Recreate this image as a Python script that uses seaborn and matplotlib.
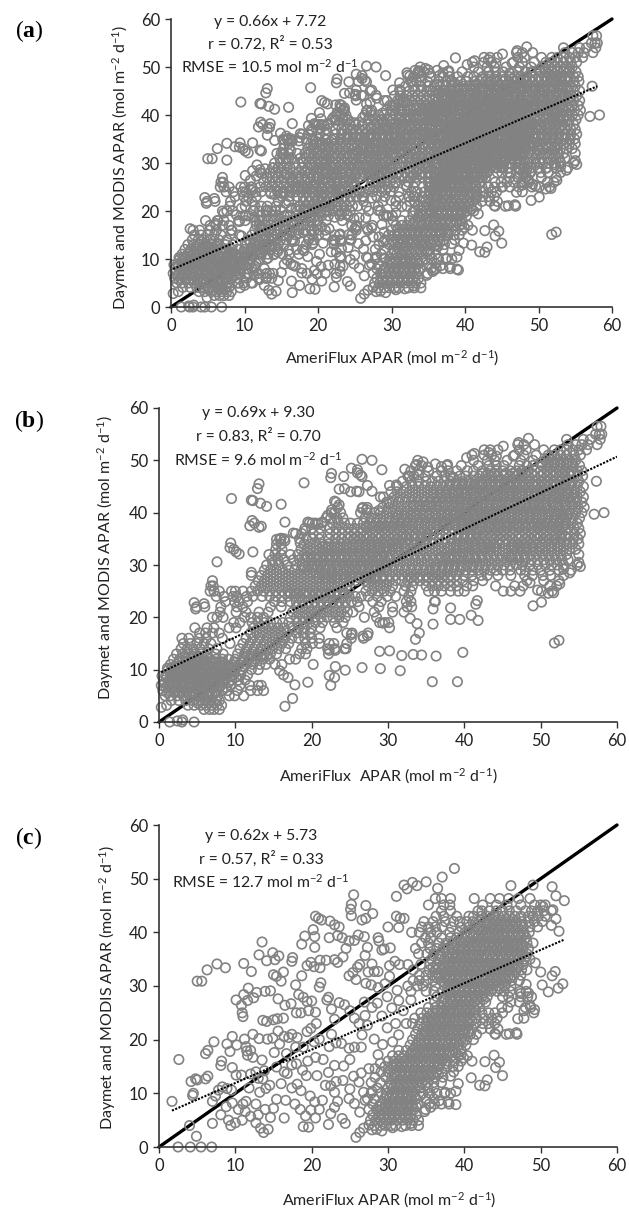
import matplotlib
matplotlib.use('Agg')
import matplotlib.pyplot as plt
import pandas as pd
import numpy as np
import seaborn as sns

# values; panel (a) holds the points of (b) and (c) together
rows_b = {
    2.4: [5.9, 6.6, 7.2, 7.9],
    3.2: [1.0, 3.8, 4.6, 5.5, 6.2, 6.9, 7.6, 8.2],
    4.1: [1.6, 2.6, 3.5, 4.4, 5.2, 6.0, 6.8, 7.5, 7.9],
    5.0: [0.8, 1.5, 2.4, 3.2, 4.0, 4.8, 5.5, 6.3, 7.0, 7.7, 9.2, 9.9, 11.1],
    6.0: [0.5, 1.3, 2.1, 2.9, 3.7, 4.4, 5.2, 5.9, 6.7, 7.5, 8.3, 9.0, 10.3, 12.0, 12.9, 13.7],
    7.0: [0.3, 1.1, 1.9, 2.7, 3.4, 4.2, 5.0, 5.8, 6.5, 7.3, 8.1, 9.4, 10.6, 11.9, 13.0, 13.4],
    8.0: [0.6, 1.4, 2.2, 3.0, 3.8, 4.6, 5.4, 6.2, 7.0, 7.8, 8.6, 9.5, 10.4, 11.3],
    9.0: [0.9, 1.7, 2.5, 3.3, 4.1, 4.9, 5.7, 6.5, 7.3, 8.1, 8.9, 9.8, 10.7, 11.6],
    10.0: [1.2, 2.0, 2.8, 3.6, 4.4, 5.2, 6.0, 6.8, 7.6, 8.4, 9.2, 10.0, 10.9, 12.1, 13.0],
    11.0: [1.5, 2.3, 3.1, 3.9, 4.7, 5.5, 6.3, 7.1, 7.9, 8.7, 9.6, 10.5, 11.4, 12.3, 13.2, 14.0, 15.2, 16.1],
    12.0: [1.9, 2.7, 3.5, 4.3, 5.1, 5.9, 6.7, 7.5, 8.3, 9.1, 10.0, 10.9, 11.8, 12.7, 13.6, 14.5, 17.1, 17.9],
    13.0: [2.3, 3.1, 3.9, 4.7, 5.5, 6.3, 7.4, 8.4, 10.3, 11.2, 12.1, 13.0, 13.8, 14.6, 15.4, 18.4, 19.2, 22.2],
    14.0: [2.9, 3.7, 4.5, 5.4, 6.5, 7.6, 10.6, 11.5, 12.4, 13.3, 14.1, 14.9, 15.7, 16.6, 18.7, 19.4, 22.1, 23.0, 24.3],
    15.0: [3.2, 4.1, 5.0, 5.9, 6.8, 9.3, 11.0, 11.9, 12.8, 13.7, 14.5, 15.3, 16.1, 17.0, 19.2, 20.1, 21.0, 22.3, 22.9, 24.6],
    16.0: [3.0, 3.9, 5.3, 6.2, 8.3, 11.4, 12.3, 13.2, 14.1, 14.9, 15.7, 16.5, 17.4, 18.3, 19.1, 20.0, 21.0, 25.2, 26.8],
    17.0: [5.3, 6.1, 7.0, 7.9, 12.0, 12.8, 13.6, 14.4, 15.2, 16.0, 16.8, 18.0, 18.9, 19.8, 24.6, 25.3, 27.4],
    18.0: [4.7, 6.3, 7.2, 9.2, 10.1, 12.4, 13.2, 14.0, 14.8, 15.6, 16.4, 17.5, 18.3, 19.1, 20.0, 21.1, 23.3],
    19.0: [9.8, 10.6, 12.2, 13.0, 13.8, 14.6, 15.4, 16.2, 17.0, 18.1, 18.9, 19.7, 20.5, 21.4, 23.0, 24.1, 28.9, 29.6, 30.1],
    20.0: [7.0, 7.6, 8.4, 11.2, 12.0, 12.9, 13.7, 17.2, 18.0, 18.8, 19.6, 20.4, 21.2, 22.0, 22.8, 23.6, 24.4, 26.9, 28.5],
    21.0: [8.0, 10.1, 11.4, 13.1, 14.3, 17.5, 18.3, 19.1, 19.9, 20.7, 21.5, 22.3, 23.1, 23.9, 24.7, 25.4, 28.2, 30.6, 32.1],
    22.0: [4.9, 6.0, 8.1, 10.2, 11.0, 14.6, 16.0, 18.0, 18.8, 19.6, 20.4, 21.2, 22.0, 22.8, 23.6, 24.4, 26.2, 28.8, 30.6, 32.5, 33.1],
    23.0: [8.7, 9.9, 10.5, 11.6, 15.1, 16.1, 17.2, 18.0, 18.8, 19.6, 20.4, 21.2, 22.0, 22.8, 23.6, 24.4, 25.2, 26.0, 28.0, 29.1, 32.4, 33.0, 36.1],
    24.0: [7.5, 8.5, 9.7, 10.2, 11.5, 12.3, 13.5, 14.5, 15.3, 16.1, 16.9, 17.7, 18.5, 19.3, 20.1, 20.9, 21.7, 22.5, 23.3, 24.1, 24.9, 25.7, 26.5, 27.4, 28.6, 29.9, 31.0, 32.7],
    25.0: [6.7, 7.2, 7.9, 9.5, 10.0, 11.0, 12.1, 12.9, 13.7, 14.5, 15.3, 16.1, 16.9, 17.7, 18.5, 19.3, 20.1, 20.9, 21.7, 22.5, 23.3, 24.1, 24.9, 27.1, 27.9, 28.7, 29.5, 30.3, 32.1, 33.0, 35.3, 36.1, 37.0, 38.2, 39.2, 40.0, 45.1, 46.1, 47.3, 50.1, 51.5],
    26.0: [6.8, 7.1, 12.6, 13.4, 14.2, 15.0, 15.8, 16.6, 17.4, 18.2, 19.0, 19.8, 20.6, 21.4, 22.2, 23.0, 23.8, 24.6, 27.4, 28.2, 29.0, 29.8, 30.6, 32.3, 33.2, 35.0, 35.8, 36.6, 37.4, 38.2, 39.0, 40.3, 41.1, 44.1, 46.6, 47.7, 51.2, 52.1],
    27.0: [7.0, 13.0, 13.8, 14.6, 15.4, 16.2, 17.0, 17.8, 18.6, 19.4, 20.2, 21.0, 21.8, 22.6, 23.4, 24.2, 25.0, 25.8, 27.0, 27.8, 28.6, 29.4, 30.2, 31.0, 31.8, 32.6, 33.4, 34.2, 35.0, 35.8, 36.6, 37.4, 38.2, 39.0, 39.8, 41.2, 42.4, 48.2, 50.4, 52.4],
    28.0: [12.1, 13.4, 14.2, 15.0, 15.8, 16.6, 17.4, 18.2, 19.0, 19.8, 20.6, 21.4, 22.2, 23.0, 23.8, 24.6, 25.4, 26.2, 27.0, 27.8, 28.6, 29.4, 30.2, 31.0, 31.8, 32.6, 33.4, 34.2, 35.0, 35.8, 36.6, 37.4, 38.2, 39.0, 40.0, 41.0, 42.2, 43.0, 44.4, 46.1, 47.9, 48.9, 50.3, 51.3, 53.0],
    29.0: [13.8, 14.6, 15.4, 16.2, 17.0, 17.8, 18.6, 19.4, 20.2, 21.0, 21.8, 22.6, 23.4, 24.2, 25.0, 25.8, 26.6, 27.4, 28.2, 29.0, 29.8, 30.6, 31.4, 32.2, 33.0, 33.8, 34.6, 35.4, 36.2, 37.0, 37.8, 38.6, 39.4, 40.2, 41.0, 41.8, 42.6, 43.4, 44.2, 45.0, 46.0, 47.4, 48.0, 49.0, 50.0, 51.2, 52.4, 54.0],
    30.0: [14.1, 14.9, 15.7, 16.8, 18.0, 18.8, 19.6, 20.4, 21.2, 22.0, 22.8, 23.6, 24.4, 25.2, 26.0, 26.8, 27.6, 28.4, 29.2, 30.0, 30.8, 31.6, 32.4, 33.2, 34.0, 34.8, 35.6, 36.4, 37.2, 38.0, 38.8, 39.6, 40.4, 41.2, 42.0, 42.8, 43.6, 44.4, 45.2, 46.0, 46.8, 47.6, 48.6, 49.6, 50.6, 51.4, 52.2, 53.0, 54.8],
    31.0: [14.8, 15.6, 16.4, 17.6, 18.4, 19.2, 20.0, 20.8, 21.6, 22.4, 23.2, 24.0, 24.8, 25.6, 26.4, 27.2, 28.0, 28.8, 29.6, 30.4, 31.2, 32.0, 32.8, 33.6, 34.4, 35.2, 36.0, 36.8, 37.6, 38.4, 39.2, 40.0, 40.8, 41.6, 42.4, 43.2, 44.0, 44.8, 45.6, 46.4, 47.2, 48.0, 48.8, 49.6, 50.4, 51.2, 52.0, 52.8, 53.6],
    32.0: [14.4, 15.2, 16.0, 17.2, 18.2, 19.0, 19.8, 20.6, 21.4, 22.2, 23.0, 23.8, 24.6, 25.4, 26.2, 27.0, 27.8, 28.6, 29.4, 30.2, 31.0, 31.8, 32.6, 33.4, 34.2, 35.0, 35.8, 36.6, 37.4, 38.2, 39.0, 39.8, 40.6, 41.4, 42.2, 43.0, 43.8, 44.6, 45.4, 46.2, 47.0, 47.8, 48.6, 49.4, 50.2, 51.0, 51.8, 52.6, 53.4, 55.0],
    33.0: [15.3, 16.1, 18.6, 19.4, 20.2, 21.0, 21.8, 22.6, 23.4, 24.2, 25.0, 25.8, 26.6, 27.4, 28.2, 29.0, 29.8, 30.6, 31.4, 32.2, 33.0, 33.8, 34.6, 35.4, 36.2, 37.0, 37.8, 38.6, 39.4, 40.2, 41.0, 41.8, 42.6, 43.4, 44.2, 45.0, 45.8, 46.6, 47.4, 48.2, 49.0, 49.8, 50.6, 51.4, 52.2, 53.0, 53.8, 54.6],
    34.0: [15.4, 16.0, 19.0, 19.8, 20.6, 21.4, 22.2, 23.0, 23.8, 24.6, 25.4, 26.2, 27.0, 27.8, 28.6, 29.4, 30.2, 31.0, 31.8, 32.6, 33.4, 34.2, 35.0, 35.8, 36.6, 37.4, 38.2, 39.0, 39.8, 40.6, 41.4, 42.2, 43.0, 43.8, 44.6, 45.4, 46.2, 47.0, 47.8, 48.6, 49.4, 50.2, 51.0, 51.8, 52.6, 53.4, 54.2, 55.0],
    35.0: [15.8, 16.4, 18.4, 19.3, 20.1, 21.0, 22.3, 23.1, 23.9, 24.7, 25.5, 26.3, 27.1, 27.9, 28.7, 29.5, 30.3, 31.1, 31.9, 32.7, 33.5, 34.3, 35.1, 35.9, 36.7, 37.5, 38.3, 39.1, 39.9, 40.7, 41.5, 42.3, 43.1, 43.9, 44.7, 45.5, 46.3, 47.1, 47.9, 48.7, 49.5, 50.3, 51.1, 51.9, 52.7, 53.5, 54.3, 54.9],
    36.0: [17.9, 18.7, 20.2, 21.0, 22.4, 23.2, 24.0, 24.8, 25.6, 26.4, 27.2, 28.0, 28.8, 29.6, 30.4, 31.2, 32.0, 32.8, 33.6, 34.4, 35.2, 36.0, 36.8, 37.6, 38.4, 39.2, 40.0, 40.8, 41.6, 42.4, 43.2, 44.0, 44.8, 45.6, 46.4, 47.2, 48.0, 48.8, 49.6, 50.4, 51.2, 52.0, 52.8, 53.6, 54.4, 55.2],
    37.0: [19.1, 20.0, 21.1, 22.4, 23.2, 24.0, 24.8, 25.6, 26.4, 27.2, 28.0, 28.8, 29.6, 30.4, 31.2, 32.0, 32.8, 33.6, 34.4, 35.2, 36.0, 36.8, 37.6, 38.4, 39.2, 40.0, 40.8, 41.6, 42.4, 43.2, 44.0, 44.8, 45.6, 46.4, 47.2, 48.0, 48.8, 49.6, 50.4, 51.2, 52.0, 52.8, 53.6, 54.4, 55.0],
    38.0: [19.7, 20.5, 21.3, 22.7, 23.5, 24.3, 25.1, 26.0, 26.8, 27.6, 28.4, 29.2, 30.0, 30.8, 31.6, 32.4, 33.2, 34.0, 34.8, 35.6, 36.4, 37.2, 38.0, 38.8, 39.6, 40.4, 41.2, 42.0, 42.8, 43.6, 44.4, 45.2, 46.0, 46.8, 47.6, 48.4, 49.2, 50.0, 50.8, 51.6, 52.4, 53.2, 54.0, 54.8],
    39.0: [21.9, 22.5, 23.3, 24.1, 27.0, 27.8, 28.6, 29.4, 30.2, 31.0, 31.8, 32.6, 33.4, 34.2, 35.0, 35.8, 36.6, 37.4, 38.2, 39.0, 39.8, 40.6, 41.4, 42.2, 43.0, 43.8, 44.6, 45.4, 46.2, 47.0, 47.8, 48.6, 49.4, 50.2, 51.0, 51.8, 52.6, 53.4, 54.2, 55.1],
    40.0: [22.6, 23.0, 23.8, 26.4, 27.3, 28.2, 29.0, 29.8, 30.6, 31.4, 32.2, 33.0, 33.8, 34.6, 35.4, 36.2, 37.0, 37.8, 38.6, 39.4, 40.2, 41.0, 41.8, 42.6, 43.4, 44.2, 45.0, 45.8, 46.6, 47.4, 48.2, 49.0, 49.8, 50.6, 51.4, 52.2, 53.0, 53.8, 54.6, 55.4],
    41.0: [23.4, 26.7, 27.3, 29.3, 30.1, 30.9, 31.7, 32.5, 33.3, 34.1, 34.9, 35.7, 36.5, 37.3, 38.1, 38.9, 39.7, 40.5, 41.3, 42.1, 42.9, 43.7, 44.5, 45.3, 46.1, 46.9, 47.7, 48.5, 49.3, 50.1, 50.9, 51.7, 52.5, 53.3, 54.1, 54.9, 55.7],
    42.0: [23.2, 29.8, 30.6, 31.4, 32.2, 33.0, 33.8, 34.6, 35.4, 36.2, 37.0, 37.8, 38.6, 39.4, 40.2, 41.0, 41.8, 42.6, 43.4, 44.2, 45.0, 45.8, 46.6, 47.4, 48.2, 49.0, 49.8, 50.6, 51.4, 52.2, 53.0, 53.8, 54.6, 55.4],
    43.0: [29.4, 30.8, 31.6, 32.4, 33.2, 34.0, 34.8, 35.6, 36.4, 37.2, 38.0, 38.8, 39.6, 40.4, 41.2, 42.0, 42.8, 43.6, 44.4, 45.2, 46.0, 46.8, 47.6, 48.4, 49.2, 50.0, 50.8, 51.6, 52.4, 53.2, 54.0, 54.8, 55.6],
    44.0: [30.4, 31.2, 32.0, 32.8, 33.6, 34.4, 35.2, 36.0, 36.8, 37.6, 38.4, 39.2, 40.0, 40.8, 41.6, 42.4, 43.2, 44.0, 44.8, 45.6, 46.4, 47.2, 48.0, 48.8, 49.6, 50.4, 51.2, 52.0, 52.8, 53.6, 54.4, 55.2],
    45.0: [31.2, 32.4, 33.2, 34.0, 34.8, 35.6, 36.4, 37.2, 38.0, 38.8, 39.6, 40.4, 41.2, 42.0, 42.8, 43.6, 44.4, 45.2, 46.0, 46.8, 47.6, 48.4, 49.2, 50.0, 50.8, 51.6, 52.4, 53.2, 54.0, 54.8, 55.6],
    46.0: [31.9, 33.0, 34.0, 35.0, 35.8, 36.6, 37.4, 38.2, 39.0, 39.8, 40.6, 41.4, 42.2, 43.0, 43.8, 44.6, 45.4, 46.2, 47.0, 47.8, 48.6, 49.4, 50.2, 51.0, 51.8, 52.6, 53.4, 54.2, 55.0],
    47.0: [32.6, 33.4, 34.9, 36.4, 37.4, 38.2, 39.4, 40.2, 41.2, 42.0, 42.8, 43.6, 44.4, 45.2, 46.0, 46.8, 47.6, 48.4, 49.2, 50.0, 50.8, 51.6, 52.4, 53.2, 54.0, 54.8, 55.5],
    48.0: [33.0, 34.0, 35.3, 37.0, 37.9, 39.0, 40.4, 41.2, 42.4, 43.4, 44.2, 45.0, 46.0, 46.8, 47.6, 48.4, 49.2, 50.0, 50.8, 51.6, 52.4, 53.2, 54.0, 54.8, 55.4],
    49.0: [33.6, 34.4, 37.7, 39.6, 41.8, 43.2, 44.2, 45.2, 47.2, 48.2, 49.0, 50.2, 51.0, 51.8, 52.6, 53.4, 54.2, 55.1],
    50.0: [33.9, 41.2, 43.0, 44.0, 45.6, 47.4, 49.0, 50.6, 51.4, 52.2, 53.0, 53.8, 54.6],
    51.0: [41.0, 42.6, 43.6, 46.6, 47.8, 49.4, 51.0, 51.8, 52.6, 53.4, 54.4, 55.2],
    52.0: [43.4, 44.4, 47.2, 48.1, 50.4, 51.8, 52.6, 53.4, 54.2, 55.0, 56.0],
    53.0: [47.0, 47.8, 49.2, 53.6, 54.6, 55.4, 56.2, 57.4],
    54.0: [53.4, 55.6, 57.8, 56.5],
    55.0: [57.2, 57.7, 58.0],
    56.5: [57.4, 57.9],
}
# in-between rows where the cloud is solid grey
rows_b_core = {
    3.6: [5.1, 5.8, 6.5, 7.3],
    5.6: [1.1, 2.0, 2.7, 3.6, 4.3, 5.2, 5.7, 6.6, 7.4],
    6.6: [0.9, 1.6, 2.5, 3.1, 4.0, 4.9, 5.4, 6.2, 7.0, 7.9, 8.8],
    7.5: [0.7, 1.5, 2.3, 3.1, 3.9, 4.8, 5.6, 6.3, 7.2, 8.4, 9.1],
    8.6: [1.0, 1.9, 2.6, 3.5, 4.3, 5.2, 5.9, 6.8, 7.6, 8.3, 9.3, 10.1],
    9.5: [1.5, 2.2, 3.0, 3.8, 4.7, 5.4, 6.3, 7.0, 7.9, 8.7, 9.5],
    10.6: [2.0, 2.6, 3.5, 4.2, 5.1, 5.9, 6.6, 7.5, 8.2, 9.1, 10.2, 11.0],
    11.5: [2.6, 3.4, 4.2, 5.0, 5.8, 6.7, 7.4, 8.2, 9.9, 11.0, 12.1],
    12.6: [3.4, 4.4, 5.2, 6.2, 11.6, 12.4, 13.3, 14.1],
    24.6: [17.1, 18.0, 19.0, 19.7, 20.6, 21.4, 22.4, 23.0, 24.3],
    27.6: [20.9, 21.7, 22.5, 23.2, 24.4, 25.1, 26.1, 26.9, 27.6, 28.4, 29.3, 33.1, 34.0, 35.2, 36.1, 37.1, 37.9],
    29.6: [19.1, 20.1, 20.8, 21.7, 22.4, 23.3, 24.2, 24.9, 25.7, 26.5, 27.4, 28.1, 29.0, 29.7, 36.2, 37.1, 37.9, 38.7, 39.6, 41.1],
    31.5: [19.4, 20.3, 21.1, 22.0, 22.7, 23.6, 24.3, 25.2, 26.0, 26.9, 27.6, 28.5, 29.2, 30.1, 37.0, 38.0, 38.7, 39.6, 40.5, 41.4, 42.3, 46.1, 47.0, 47.9],
    33.5: [21.4, 22.1, 23.0, 23.7, 24.6, 25.4, 26.2, 27.1, 27.9, 28.8, 29.6, 30.5, 31.2, 32.1, 38.1, 39.0, 39.9, 40.6, 41.5, 42.4, 43.2, 44.0, 46.4, 47.2, 48.0, 48.9, 49.9, 51.4, 52.3],
    35.5: [25.1, 26.0, 26.9, 27.6, 28.5, 29.2, 30.1, 30.9, 31.8, 32.5, 33.4, 34.3, 35.0, 39.2, 40.0, 40.9, 41.7, 42.5, 43.4, 44.2, 45.0, 45.9, 46.8, 47.5, 48.4, 49.3, 50.0, 50.9, 51.8, 52.6, 53.3],
    37.5: [27.2, 28.1, 29.0, 29.7, 30.6, 31.4, 32.3, 33.1, 33.9, 34.8, 35.5, 36.4, 37.3, 38.0, 38.9, 39.8, 40.6, 41.3, 42.2, 43.1, 43.9, 44.6, 45.5, 46.4, 47.1, 48.0, 48.9, 49.8, 50.5, 51.4, 52.2, 53.0],
    39.5: [31.2, 32.1, 33.0, 33.7, 34.6, 35.4, 36.3, 37.1, 37.9, 38.8, 39.5, 40.4, 41.2, 42.1, 42.8, 43.7, 44.5, 45.3, 46.1, 47.0, 47.7, 48.6, 49.5, 50.2, 51.1, 52.0, 52.8, 53.5],
    41.5: [33.4, 34.2, 35.1, 35.8, 36.7, 37.5, 38.4, 39.2, 40.0, 40.9, 41.6, 42.5, 43.3, 44.2, 44.9, 45.8, 46.6, 47.4, 48.2, 49.1, 49.8, 50.7, 51.6, 52.3, 53.2, 54.1],
    43.5: [36.0, 36.9, 37.7, 38.6, 39.3, 40.2, 41.1, 41.9, 42.6, 43.5, 44.3, 45.1, 45.9, 46.8, 47.5, 48.4, 49.3, 50.0, 50.9, 51.8, 52.5, 53.4, 54.3],
    45.5: [38.1, 39.0, 39.8, 40.7, 41.4, 42.3, 43.2, 44.0, 44.7, 45.6, 46.4, 47.2, 48.0, 48.9, 49.6, 50.5, 51.4, 52.1, 53.0, 53.9],
    47.5: [42.3, 43.1, 44.0, 45.4, 46.3, 47.1, 47.9, 48.8, 50.4, 51.3, 52.1, 53.0, 53.8],
    49.5: [50.1, 50.9, 51.7, 52.6, 53.5, 54.2],
}
outliers_b = [
    (0.4, 8.8), (1.1, 10.3), (1.7, 10.3), (0.3, 2.8), (1.4, 0.0), (2.4, 0.2), (3.0, 0.0), (3.1, 0.4), (4.6, 0.0),
    (4.6, 22.8), (4.8, 21.6), (5.9, 22.6), (7.6, 30.6), (9.4, 34.2), (9.3, 33.3), (9.8, 33.0), (10.1, 32.5),
    (10.5, 32.1), (9.5, 42.7), (12.1, 42.4), (12.3, 42.3), (13.3, 41.8), (14.1, 41.2), (16.0, 41.6), (12.9, 44.6),
    (13.1, 45.5), (12.2, 38.5), (12.5, 38.0), (11.9, 37.5), (13.1, 37.2), (13.4, 37.4), (16.5, 38.2), (12.3, 32.5),
    (12.1, 28.6), (15.4, 34.9), (16.0, 35.1), (16.5, 34.6), (17.6, 36.1), (18.5, 34.2), (19.2, 36.6), (19.5, 38.2),
    (20.1, 38.0), (20.8, 37.9), (21.4, 38.2), (22.1, 39.5), (22.6, 40.5), (23.0, 42.2), (23.6, 41.5), (19.0, 45.7),
    (22.6, 47.5), (22.5, 46.7), (24.2, 46.9), (23.6, 44.5), (24.3, 44.6), (25.1, 44.0), (25.9, 44.1), (26.2, 44.0),
    (25.2, 48.5), (26.0, 48.2), (26.4, 47.2), (26.0, 47.6), (26.6, 46.9), (26.6, 50.2), (27.3, 45.2), (27.9, 44.1),
    (27.9, 50.0), (29.2, 48.2), (29.0, 43.0), (26.6, 40.8), (27.2, 40.6), (28.8, 40.4), (30.2, 41.9), (30.2, 45.2),
    (31.1, 45.3), (32.2, 48.3), (32.8, 47.0), (33.7, 49.2), (34.6, 49.7), (35.2, 48.7), (34.0, 47.2), (36.2, 49.3),
    (37.0, 48.8), (37.8, 49.2), (38.5, 46.8), (41.3, 51.3), (42.6, 52.0), (43.2, 51.5), (45.1, 52.7), (47.1, 53.4),
    (48.4, 54.2), (46.4, 50.8), (44.2, 50.8), (40.3, 50.5),
    (16.5, 3.0), (17.5, 4.5), (17.8, 7.1), (19.5, 7.6), (16.9, 8.5), (16.3, 9.0), (15.8, 9.8), (20.2, 11.0),
    (22.5, 7.0), (22.3, 8.9), (23.0, 8.5), (23.1, 10.6), (24.4, 9.9), (26.6, 10.4), (29.0, 10.2), (31.6, 9.8),
    (35.8, 7.7), (39.1, 7.7), (28.9, 13.5), (30.2, 13.6), (31.8, 12.7), (33.3, 12.9), (34.4, 12.8), (36.3, 12.6),
    (39.8, 13.3), (51.8, 15.1), (52.4, 15.6), (33.6, 15.8), (34.1, 17.0), (33.8, 18.8), (32.9, 19.8), (35.9, 18.7),
    (35.9, 21.6), (36.2, 23.0), (38.2, 21.8), (38.2, 19.6), (39.4, 19.6), (40.9, 20.4), (41.8, 19.4), (41.5, 22.5),
    (41.7, 23.2), (57.0, 39.7), (58.3, 40.0), (57.3, 46.0), (49.0, 22.2), (50.1, 22.9), (48.6, 26.6), (49.6, 25.2),
    (51.0, 24.6), (51.7, 24.7), (52.5, 26.4), (53.0, 29.2), (53.8, 28.5), (55.0, 30.5), (55.2, 29.7),
    (22.3, 13.7), (23.1, 13.7), (24.5, 14.0), (25.2, 16.7), (26.7, 16.4), (27.3, 16.5), (29.3, 18.9), (30.2, 18.0),
]

rows_c = {
    4.0: [28.2, 29.0, 29.7, 30.4, 31.0, 32.3, 33.1, 34.0],
    5.0: [27.7, 28.4, 29.1, 29.8, 30.5, 31.2, 31.9, 32.6, 33.3, 34.0],
    6.0: [28.0, 28.8, 29.5, 30.2, 30.9, 31.6, 32.3, 33.0, 33.7],
    7.0: [27.5, 28.5, 29.2, 29.9, 30.6, 31.3, 32.0, 32.7, 33.4, 34.9],
    8.0: [28.0, 29.0, 29.7, 30.4, 31.1, 31.8, 32.5, 33.2, 33.9, 35.4, 36.1, 37.0, 38.0],
    9.0: [27.3, 28.2, 29.5, 30.2, 30.9, 31.6, 32.3, 33.0, 33.7, 35.0, 36.0],
    10.0: [27.8, 29.1, 29.8, 30.5, 31.2, 31.9, 32.6, 33.3, 34.6, 35.5, 36.4, 37.4, 38.2],
    11.0: [28.6, 30.0, 30.7, 31.4, 32.1, 32.8, 33.5, 34.2, 35.2, 36.0],
    12.0: [29.0, 30.3, 31.0, 31.7, 32.4, 33.1, 33.8, 34.5, 35.2, 36.0, 37.0],
    13.0: [28.3, 29.7, 30.5, 31.2, 31.9, 32.6, 33.3, 34.0, 34.7, 35.4, 36.1, 37.2],
    14.0: [29.1, 30.0, 30.8, 31.5, 32.2, 32.9, 33.6, 34.3, 35.0, 35.7, 36.4, 37.1, 38.6],
    15.0: [29.6, 30.4, 31.1, 31.8, 32.5, 33.2, 33.9, 34.6, 35.3, 36.0, 36.7, 37.7, 38.5, 39.2],
    16.0: [30.0, 30.8, 31.5, 32.2, 32.9, 33.6, 34.3, 35.0, 35.7, 36.4, 37.1, 37.8, 38.7, 39.6],
    17.0: [30.6, 31.4, 32.1, 32.8, 33.5, 34.2, 34.9, 35.6, 36.3, 37.0, 37.7, 38.4, 39.3, 40.4],
    18.0: [31.4, 32.4, 33.2, 33.9, 34.6, 35.3, 36.0, 36.7, 37.4, 38.1, 38.8, 39.6],
    19.0: [32.9, 33.7, 34.4, 35.1, 35.8, 36.5, 37.2, 37.9, 38.6, 39.3, 40.2],
    20.0: [33.2, 34.0, 34.7, 35.4, 36.1, 36.8, 37.5, 38.2, 38.9, 39.6, 40.3, 41.2],
    21.0: [33.6, 34.4, 35.1, 35.8, 36.5, 37.2, 37.9, 38.6, 39.3, 40.0, 40.8, 41.6, 44.1, 45.5, 46.9],
    22.0: [33.9, 34.6, 35.3, 36.0, 36.7, 37.4, 38.1, 38.8, 39.5, 40.2, 41.0, 42.3, 43.4, 44.4],
    23.0: [33.2, 34.2, 35.0, 35.7, 36.4, 37.1, 37.8, 38.5, 39.2, 39.9, 40.6, 41.5, 42.4, 43.2, 44.0],
    24.0: [33.5, 34.5, 35.2, 35.9, 36.6, 37.3, 38.0, 38.7, 39.4, 40.1, 40.8, 41.6, 42.6, 43.6, 44.3, 47.8],
    25.0: [34.3, 35.1, 35.8, 36.5, 37.2, 37.9, 38.6, 39.3, 40.0, 40.7, 41.4, 42.3, 43.2, 44.0, 45.0, 49.1],
    26.0: [35.3, 36.2, 37.0, 37.7, 38.4, 39.1, 39.8, 40.5, 41.2, 42.0, 44.9, 45.7, 48.0, 48.7],
    27.0: [36.1, 37.0, 37.8, 38.5, 39.2, 39.9, 40.6, 41.3, 42.0, 42.8, 46.1, 47.2],
    28.0: [36.4, 37.3, 38.1, 38.8, 39.5, 40.2, 40.9, 41.6, 42.3, 43.0, 45.0, 45.8, 47.4, 48.3, 48.8],
    29.0: [33.0, 35.0, 36.0, 37.1, 37.9, 38.6, 39.3, 40.0, 40.7, 41.4, 42.1, 42.8, 43.5, 44.3, 45.2, 46.0, 47.3, 48.1],
    30.0: [32.6, 33.8, 34.6, 36.2, 37.4, 38.2, 38.9, 39.6, 40.3, 41.0, 41.7, 42.4, 43.1, 43.8, 44.5, 45.3, 46.1],
    31.0: [33.3, 34.1, 35.0, 35.9, 37.0, 37.8, 38.5, 39.2, 39.9, 40.6, 41.3, 42.0, 42.7, 43.4, 44.1, 44.8, 45.5, 46.2, 47.2],
    32.0: [34.1, 35.0, 35.8, 36.6, 37.4, 38.1, 38.8, 39.5, 40.2, 40.9, 41.6, 42.3, 43.0, 43.7, 44.4, 45.1, 45.8, 46.5, 47.4],
    33.0: [33.3, 35.4, 36.2, 37.0, 37.7, 38.4, 39.1, 39.8, 40.5, 41.2, 41.9, 42.6, 43.3, 44.0, 44.7, 45.4, 46.1, 46.8, 47.5, 48.2],
    34.0: [32.6, 34.3, 35.5, 36.4, 37.2, 37.9, 38.6, 39.3, 40.0, 40.7, 41.4, 42.1, 42.8, 43.5, 44.2, 44.9, 45.6, 46.3, 47.0, 47.7],
    35.0: [35.7, 36.6, 37.4, 38.1, 38.8, 39.5, 40.2, 40.9, 41.6, 42.3, 43.0, 43.7, 44.4, 45.1, 45.8, 46.5, 47.2, 47.9, 48.6],
    36.0: [34.0, 35.1, 36.0, 36.9, 37.7, 38.4, 39.1, 39.8, 40.5, 41.2, 41.9, 42.6, 43.3, 44.0, 44.7, 45.4, 46.1, 46.8, 47.5, 48.2],
    37.0: [33.6, 35.5, 36.4, 37.2, 37.9, 38.6, 39.3, 40.0, 40.7, 41.4, 42.1, 42.8, 43.5, 44.2, 44.9, 45.6, 46.3, 47.0, 47.7, 48.4],
    38.0: [34.4, 35.3, 36.7, 37.6, 38.4, 39.1, 39.8, 40.5, 41.2, 41.9, 42.6, 43.3, 44.0, 44.7, 45.4, 46.1, 46.8, 47.5, 48.2, 49.0],
    39.0: [34.9, 35.6, 37.0, 38.2, 39.0, 39.7, 40.4, 41.1, 41.8, 42.5, 43.2, 43.9, 44.6, 45.3, 46.0, 46.7, 47.4, 48.1],
    40.0: [33.1, 34.1, 35.6, 36.4, 38.1, 39.3, 40.1, 40.8, 41.5, 42.2, 42.9, 43.6, 44.3, 45.0, 45.7, 46.4, 47.1, 47.8, 48.5],
    41.0: [34.4, 35.3, 36.2, 37.1, 38.3, 39.6, 40.6, 41.4, 42.1, 42.8, 43.5, 44.2, 44.9, 45.6, 46.3, 47.0, 47.7, 48.6, 49.6],
    42.0: [34.7, 35.9, 37.5, 38.6, 39.4, 40.3, 41.1, 41.9, 42.6, 43.3, 44.0, 44.7, 45.4, 46.1, 46.8, 47.5, 48.4, 49.2, 50.2],
    43.0: [36.3, 37.3, 39.0, 40.6, 41.2, 42.2, 43.0, 43.8, 44.5, 45.2, 45.9, 46.6, 47.4, 48.4, 49.0, 49.7, 50.6],
    44.0: [37.0, 38.2, 41.8, 42.3, 43.3, 44.2, 45.0, 45.9, 46.8, 48.0, 48.8, 49.6, 50.4, 51.4],
    45.1: [35.3, 37.3, 38.1, 42.4, 44.2, 45.6, 47.4, 49.2, 50.0, 50.6],
    46.3: [36.2, 37.0, 38.2, 41.3, 43.4, 44.6, 45.8, 47.1, 48.6],
}
rows_c_core = {
    5.5: [28.7, 29.4, 30.1, 30.8, 31.5, 32.2, 32.9],
    7.5: [28.9, 29.6, 30.4, 31.0, 31.8, 32.5, 33.1, 33.7],
    9.5: [29.8, 30.6, 31.3, 32.0, 32.7, 33.5, 34.2],
    11.5: [30.4, 31.2, 31.9, 32.6, 33.3, 34.0, 34.9],
    13.5: [30.9, 31.6, 32.3, 33.0, 33.8, 34.5, 35.2, 35.9, 36.6],
    15.5: [31.0, 31.7, 32.4, 33.1, 33.9, 34.6, 35.4, 36.1, 36.8, 37.6],
    17.5: [33.0, 33.7, 34.4, 35.1, 35.9, 36.6, 37.3, 38.0, 38.9],
    19.5: [33.9, 34.7, 35.4, 36.1, 36.8, 37.6, 38.3, 39.0, 39.8],
    21.5: [34.9, 35.6, 36.3, 37.0, 37.7, 38.5, 39.2, 39.9, 40.6],
    23.5: [35.2, 35.9, 36.7, 37.4, 38.1, 38.8, 39.6, 40.3, 41.0],
    25.5: [36.4, 37.1, 37.9, 38.6, 39.3, 40.1, 40.8, 41.5],
    27.5: [37.4, 38.2, 38.9, 39.6, 40.3, 41.0, 41.8, 42.5],
    29.5: [37.8, 38.5, 39.2, 40.0, 40.7, 41.4, 42.2, 42.9, 43.7, 44.6],
    31.5: [36.4, 37.3, 38.0, 38.7, 39.4, 40.2, 40.9, 41.6, 42.4, 43.1, 43.9, 44.6, 45.3, 46.0],
    33.5: [35.9, 36.7, 37.4, 38.2, 38.9, 39.7, 40.4, 41.1, 41.9, 42.6, 43.3, 44.1, 44.8, 45.5, 46.3, 47.0],
    35.5: [37.0, 37.8, 38.5, 39.2, 40.0, 40.7, 41.4, 42.2, 42.9, 43.7, 44.4, 45.1, 45.9, 46.6, 47.3, 48.1],
    37.5: [38.8, 39.5, 40.3, 41.0, 41.7, 42.5, 43.2, 43.9, 44.7, 45.4, 46.2, 46.9, 47.6],
    39.5: [41.2, 41.9, 42.7, 43.4, 44.1, 44.9, 45.6, 46.3, 47.1, 47.8],
    41.5: [43.0, 43.7, 44.5, 45.2, 46.0, 46.7, 47.5],
}
outliers_c = [
    (1.7, 8.5), (2.6, 16.3), (2.5, 0.0), (4.1, 0.0), (5.5, 0.0), (6.9, 0.0), (4.0, 4.0), (4.9, 2.0), (4.4, 9.6),
    (4.5, 10.0), (4.2, 12.2), (4.8, 12.7), (5.0, 12.5), (6.1, 12.7), (6.4, 13.2), (6.1, 17.4), (6.4, 18.0),
    (5.0, 30.9), (5.6, 30.9), (6.3, 33.0), (7.6, 34.1), (8.7, 33.4), (7.2, 19.6), (8.9, 19.2), (9.3, 17.8),
    (9.6, 20.6), (10.2, 19.0), (9.6, 14.8), (8.2, 16.0), (8.1, 15.2), (7.0, 8.5), (7.4, 9.5), (7.8, 10.6),
    (8.3, 11.2), (8.9, 10.9), (9.5, 10.6), (7.0, 4.4), (8.1, 6.0), (8.8, 7.5), (9.1, 5.0), (9.4, 4.0), (10.0, 4.5),
    (10.4, 7.0), (11.0, 8.0), (11.4, 8.5), (10.9, 5.0), (12.0, 5.7), (13.0, 6.0), (12.7, 4.5), (13.3, 3.5),
    (13.7, 2.7), (14.3, 3.3), (13.9, 7.0), (14.6, 5.5), (15.0, 7.2), (16.4, 5.4), (16.6, 8.7), (17.4, 11.0),
    (17.8, 8.0), (18.5, 7.0), (18.9, 3.8), (19.6, 3.7), (19.2, 5.8), (19.9, 6.9), (20.5, 5.4), (20.4, 8.4),
    (21.0, 7.0), (21.4, 8.7), (22.2, 4.2), (22.5, 6.2), (23.0, 7.4), (23.4, 8.5), (24.0, 5.3), (24.4, 4.4),
    (24.9, 9.0), (25.0, 10.8), (25.6, 8.1), (26.3, 6.5), (25.8, 1.8), (26.3, 2.7), (26.8, 3.5), (27.5, 4.1),
    (27.0, 8.7), (26.8, 10.2), (27.9, 10.4), (10.1, 27.4), (10.8, 26.4), (10.9, 25.0), (11.0, 24.3), (11.1, 28.4),
    (11.7, 29.6), (11.6, 27.3), (12.4, 27.8), (12.8, 28.8), (13.9, 29.0), (14.6, 29.1), (15.6, 27.6), (11.1, 34.2),
    (12.1, 32.7), (13.5, 38.2), (13.1, 35.8), (14.1, 34.7), (14.9, 36.2), (15.2, 34.9), (15.7, 35.6), (15.0, 32.1),
    (15.4, 31.8), (16.0, 30.9), (16.3, 32.6), (17.5, 35.3), (17.4, 34.6), (18.7, 31.9), (18.7, 37.8), (19.1, 39.3),
    (20.2, 40.5), (20.4, 39.2), (20.4, 37.2), (20.5, 43.0), (20.9, 42.6), (21.3, 42.3), (22.4, 42.1), (23.0, 41.4),
    (23.6, 41.0), (22.3, 39.0), (23.4, 39.4), (24.0, 39.0), (24.5, 37.0), (24.9, 38.4), (25.6, 38.5), (26.1, 39.5),
    (26.9, 39.2), (19.4, 33.8), (19.9, 34.4), (20.3, 33.6), (21.1, 33.4), (21.1, 34.8), (21.9, 34.8), (23.0, 34.9),
    (23.4, 34.4), (24.1, 35.4), (24.9, 31.9), (25.4, 32.5), (25.8, 31.2), (26.0, 33.5), (26.3, 34.0), (27.0, 35.7),
    (27.3, 37.2), (27.4, 32.6), (27.9, 34.1), (28.2, 32.7), (28.7, 32.7), (27.1, 30.5), (27.8, 30.2), (28.7, 29.7),
    (29.6, 30.4), (30.2, 31.8), (30.2, 33.8), (30.9, 34.6), (31.5, 34.0), (25.1, 44.3), (25.2, 45.2), (25.5, 47.0),
    (25.2, 43.1), (26.6, 42.3), (27.1, 42.6), (27.1, 45.0), (28.0, 43.5), (28.7, 39.0), (28.8, 38.4), (29.2, 36.7),
    (29.5, 36.9), (30.3, 37.1), (30.0, 41.0), (31.1, 43.0), (31.6, 42.6), (31.4, 40.9), (32.1, 42.6), (31.1, 46.7),
    (32.1, 48.8), (32.5, 48.1), (33.2, 49.3), (33.8, 48.7), (35.0, 49.4), (36.5, 48.2), (37.1, 50.3), (38.7, 51.9),
    (13.6, 23.6), (14.1, 23.4), (15.0, 23.7), (15.5, 23.9), (16.3, 24.0), (16.5, 26.4), (17.3, 26.7), (17.9, 30.2),
    (18.3, 28.4), (18.9, 27.9), (19.4, 27.1), (20.0, 27.2), (18.0, 25.0), (18.6, 25.0), (19.6, 25.4), (20.5, 25.1),
    (20.6, 23.0), (21.0, 29.8), (21.2, 30.6), (22.2, 27.9), (22.0, 27.4), (22.6, 25.7), (23.0, 23.8), (23.6, 26.9),
    (24.3, 26.5), (25.0, 25.4), (25.6, 24.0), (26.2, 23.0), (26.9, 27.0), (27.9, 26.0), (28.6, 26.8),
    (11.2, 20.1), (11.4, 18.7), (11.5, 17.9), (11.6, 17.1), (12.0, 18.0), (12.3, 16.7), (12.3, 21.0), (13.1, 20.2),
    (14.2, 20.1), (14.9, 20.3), (13.5, 16.2), (12.7, 14.0), (12.0, 13.6), (13.0, 12.8), (13.8, 14.2), (14.5, 11.5),
    (14.0, 10.9), (13.2, 10.2), (11.8, 11.0), (10.8, 13.4), (10.1, 13.4), (15.1, 17.6), (15.8, 19.2), (15.6, 21.6),
    (16.4, 20.6), (17.0, 20.4), (17.4, 21.0), (18.1, 20.4), (18.9, 18.6), (19.4, 21.5), (19.9, 22.1), (20.3, 19.6),
    (21.0, 20.1), (22.3, 18.7), (22.6, 21.0), (23.2, 19.4), (23.9, 19.3), (24.9, 18.4), (25.6, 18.6), (26.5, 18.6),
    (26.6, 20.9), (27.3, 22.7), (28.2, 20.1), (29.3, 19.1), (29.9, 22.2), (20.5, 16.7), (20.7, 13.3), (19.3, 13.3),
    (18.8, 14.3), (18.0, 15.5), (17.4, 15.3), (16.4, 14.0), (15.4, 14.9), (16.8, 13.7), (22.2, 13.9), (22.5, 11.4),
    (23.2, 12.2), (23.0, 15.2), (24.2, 15.1), (25.0, 16.3), (25.5, 13.2), (26.5, 13.8), (27.5, 14.6), (28.3, 14.6),
    (42.0, 11.5), (42.7, 11.4), (43.0, 12.5), (40.9, 12.9), (44.1, 14.8), (45.0, 13.3), (44.6, 15.8), (43.9, 17.1),
    (42.7, 15.9), (41.0, 16.0), (39.2, 11.8), (38.9, 10.4), (38.9, 7.9), (37.9, 8.4), (38.2, 13.2), (39.6, 17.3),
    (39.9, 16.6), (47.0, 23.9), (47.8, 25.4), (48.6, 26.4), (49.2, 25.6), (45.9, 21.1), (46.8, 21.3), (44.0, 21.1),
    (51.5, 31.9), (51.9, 32.7), (52.9, 30.4), (52.3, 29.6), (51.0, 28.9), (50.2, 30.2), (50.0, 32.6), (49.3, 34.3),
    (48.1, 30.3), (48.4, 28.7), (47.4, 28.6), (52.4, 40.2), (52.0, 42.5), (51.4, 41.3), (51.5, 48.5), (52.0, 46.8),
    (53.1, 45.9), (51.6, 44.2), (49.0, 48.8), (50.3, 44.8), (46.1, 48.7),
    (27.9, 3.2), (28.5, 3.3), (29.2, 3.0), (30.6, 3.6), (31.8, 3.8), (33.0, 4.4), (34.8, 6.6), (35.6, 7.4),
    (36.7, 8.6), (37.5, 10.2), (23.0, 10.2), (21.8, 11.5), (19.8, 9.5), (18.6, 10.5), (18.1, 11.7), (16.0, 11.8),
    (15.4, 8.9), (12.7, 8.0), (11.3, 6.6), (9.6, 8.2), (13.6, 12.7), (16.7, 17.4), (17.9, 18.6), (19.5, 16.0),
    (21.5, 16.3), (24.1, 12.4), (26.2, 12.1), (27.8, 12.0), (28.7, 17.2), (29.0, 15.6), (27.0, 24.5), (29.2, 24.4),
    (30.5, 25.9), (31.4, 27.3), (32.0, 25.4), (31.0, 23.0), (31.4, 20.9), (30.6, 19.6), (32.4, 23.0), (33.0, 27.4),
    (29.9, 28.0), (31.2, 29.2),
]

fits = {'a': (0.66, 7.72), 'b': (0.69, 9.30), 'c': (0.62, 5.73)}
fit_ranges = {'a': (0.3, 58.0), 'b': (0.3, 60.0), 'c': (1.7, 53.0)}
one_to_one = [0, 60]
ticks = [0, 10, 20, 30, 40, 50, 60]

stats_text = {
    'a': ['y = 0.66x + 7.72', 'r = 0.72, R² = 0.53', 'RMSE = 10.5 mol m$^{-2}$ d$^{-1}$'],
    'b': ['y = 0.69x + 9.30', 'r = 0.83, R² = 0.70', 'RMSE = 9.6 mol m$^{-2}$ d$^{-1}$'],
    'c': ['y = 0.62x + 5.73', 'r = 0.57, R² = 0.33', 'RMSE = 12.7 mol m$^{-2}$ d$^{-1}$'],
}
x_labels = {
    'a': 'AmeriFlux APAR (mol m$^{-2}$ d$^{-1}$)',
    'b': 'AmeriFlux  APAR (mol m$^{-2}$ d$^{-1}$)',
    'c': 'AmeriFlux APAR (mol m$^{-2}$ d$^{-1}$)',
}
y_label = 'Daymet and MODIS APAR (mol m$^{-2}$ d$^{-1}$)'


def to_frame(row_sets, outliers):
    pts = [(x, y) for rows in row_sets for y, xs in rows.items() for x in xs] + list(outliers)
    return pd.DataFrame(pts, columns=['x', 'y'])


df_b = to_frame([rows_b, rows_b_core], outliers_b)
df_c = to_frame([rows_c, rows_c_core], outliers_c)
df_a = pd.concat([df_b, df_c], ignore_index=True)
frames = {'a': df_a, 'b': df_b, 'c': df_c}

sns.set_style('white')
plt.rcParams['font.family'] = ['Lato', 'DejaVu Sans']
plt.rcParams['mathtext.fontset'] = 'custom'
plt.rcParams['mathtext.rm'] = 'Liberation Serif'
plt.rcParams['mathtext.bf'] = 'Liberation Serif:bold'
plt.rcParams['mathtext.default'] = 'regular'

W, H = 629, 1209
fig = plt.figure(figsize=(W / 100, H / 100), dpi=100)

# pixel layout of each panel: left, right, top, bottom of the axes
boxes = {'a': (171, 612, 19, 307), 'b': (159, 617, 408, 722), 'c': (159, 617, 825, 1147)}
stat_pos = {'a': (270, [22, 44, 67]), 'b': (258, [413, 436, 460]), 'c': (261, [836, 859, 882])}
tag_pos = {'a': (29, 31), 'b': (29, 421), 'c': (29, 838)}
xlabel_pos = {'a': (392, 358), 'b': (388, 776), 'c': (389, 1200)}
ylabel_pos = {'a': (121, 167), 'b': (106, 557), 'c': (108, 987)}


def fx(px):
    return px / W


def fy(py):
    return 1 - py / H


for key in ['a', 'b', 'c']:
    left, right, top, bottom = boxes[key]
    ax = fig.add_axes([fx(left), fy(bottom), (right - left) / W, (bottom - top) / H])

    ax.plot(one_to_one, one_to_one, color='black', linewidth=2.4, zorder=1, clip_on=False)
    sns.scatterplot(data=frames[key], x='x', y='y', ax=ax, s=46, facecolors='none',
                    edgecolor='#828282', linewidth=1.2, clip_on=False, zorder=2)

    slope, intercept = fits[key]
    fit_x = np.array(fit_ranges[key])
    ax.plot(fit_x, slope * fit_x + intercept, color='black', linestyle=(0, (1, 0.7)),
            linewidth=1.5, zorder=3)

    ax.set_xlim(0, 60)
    ax.set_ylim(0, 60)
    ax.set_xticks(ticks)
    ax.set_yticks(ticks)
    ax.set_xlabel('')
    ax.set_ylabel('')
    ax.tick_params(axis='both', direction='out', length=4, width=1.0, color='#333333',
                   labelsize=12, labelcolor='#222222', pad=4, left=True, bottom=True)
    for side in ['top', 'right']:
        ax.spines[side].set_visible(False)
    for side in ['left', 'bottom']:
        ax.spines[side].set_color('#333333')
        ax.spines[side].set_linewidth(1.2)

    sx, sys = stat_pos[key]
    for line, sy in zip(stats_text[key], sys):
        fig.text(fx(sx), fy(sy), line, ha='center', va='center', fontsize=11.3, color='#222222')

    tx, ty = tag_pos[key]
    fig.text(fx(tx), fy(ty), r'$\mathrm{(}\mathbf{%s}\mathrm{)}$' % key, ha='center', va='center',
             fontsize=17, color='black')
    lx, ly = xlabel_pos[key]
    fig.text(fx(lx), fy(ly), x_labels[key], ha='center', va='center', fontsize=11.5, color='#222222')
    yx, yy = ylabel_pos[key]
    fig.text(fx(yx), fy(yy), y_label, ha='center', va='center', rotation=90, fontsize=11.5,
             color='#222222')

fig.savefig('out.png', dpi=100, facecolor='white')
plt.close(fig)
